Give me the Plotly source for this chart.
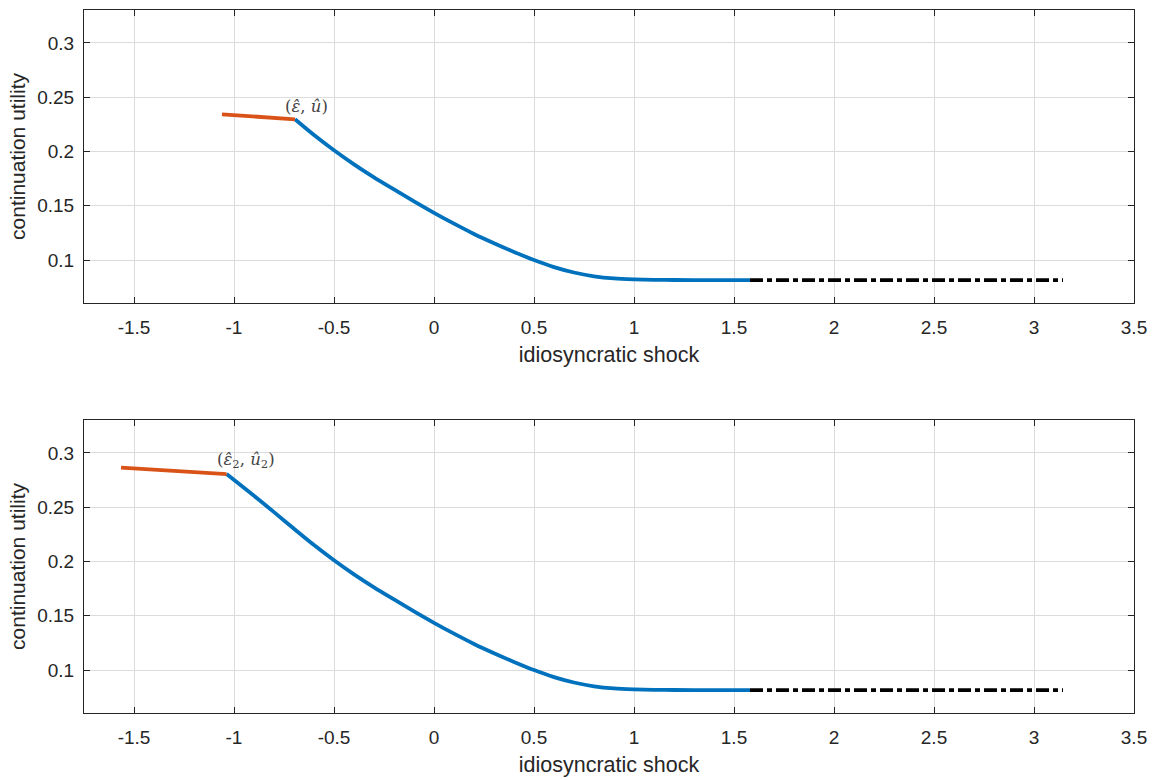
import plotly.graph_objects as go

# ---------------- data ----------------
# top panel
top_orange_x = [-1.06, -0.695]
top_orange_y = [0.2343, 0.2297]

top_blue_x = [-0.695, -0.6, -0.5, -0.4, -0.3, -0.2, -0.1, 0.0, 0.1, 0.2, 0.3, 0.4,
              0.5, 0.6, 0.7, 0.8, 0.9, 1.0, 1.1, 1.2, 1.4, 1.58]
top_blue_y = [0.2297, 0.2152, 0.2012, 0.1882, 0.1762, 0.1650, 0.1540, 0.1435, 0.1335,
              0.1240, 0.1155, 0.1075, 0.1000, 0.0935, 0.0885, 0.0850, 0.0830, 0.0822,
              0.0818, 0.0816, 0.0815, 0.0815]

top_black_x = [1.58, 3.145]
top_black_y = [0.0815, 0.0815]

# bottom panel
bot_orange_x = [-1.565, -1.037]
bot_orange_y = [0.2865, 0.2806]

bot_blue_x = [-1.037, -0.9, -0.8, -0.7, -0.6, -0.5, -0.4, -0.3, -0.2, -0.1, 0.0, 0.1,
              0.2, 0.3, 0.4, 0.5, 0.6, 0.7, 0.8, 0.9, 1.0, 1.1, 1.2, 1.4, 1.58]
bot_blue_y = [0.2806, 0.2605, 0.2455, 0.2302, 0.2152, 0.2012, 0.1882, 0.1762, 0.1650,
              0.1540, 0.1435, 0.1335, 0.1240, 0.1155, 0.1075, 0.1000, 0.0935, 0.0885,
              0.0850, 0.0830, 0.0822, 0.0818, 0.0816, 0.0815, 0.0815]

bot_black_x = [1.58, 3.145]
bot_black_y = [0.0815, 0.0815]

x_ticks = [-1.5, -1, -0.5, 0, 0.5, 1, 1.5, 2, 2.5, 3, 3.5]
x_tick_text = ["-1.5", "-1", "-0.5", "0", "0.5", "1", "1.5", "2", "2.5", "3", "3.5"]
y_ticks = [0.1, 0.15, 0.2, 0.25, 0.3]
y_tick_text = ["0.1", "0.15", "0.2", "0.25", "0.3"]

ann_top = "(<i>ε\u0302</i>, <i>u\u0302</i>)"
ann_bot = "(<i>ε\u0302</i><sub>2</sub>, <i>u\u0302</i><sub>2</sub>)"

# ---------------- styles ----------------
BLUE = "#0072BD"
ORANGE = "#D95319"
AX = "#262626"
GRID = "#dcdcdc"
FONT = "Liberation Sans, Arial, sans-serif"
LW = 3.8

fig = go.Figure()

def add_panel(xa, ya, ox, oy, bx, by, kx, ky):
    fig.add_trace(go.Scatter(x=bx, y=by, mode="lines", xaxis=xa, yaxis=ya,
                             line=dict(color=BLUE, width=LW, shape="spline", smoothing=0.8),
                             showlegend=False))
    fig.add_trace(go.Scatter(x=ox, y=oy, mode="lines", xaxis=xa, yaxis=ya,
                             line=dict(color=ORANGE, width=LW), showlegend=False))
    fig.add_trace(go.Scatter(x=kx, y=ky, mode="lines", xaxis=xa, yaxis=ya,
                             line=dict(color="black", width=LW, dash="13px,4px,5px,4px"),
                             showlegend=False))

add_panel("x", "y", top_orange_x, top_orange_y, top_blue_x, top_blue_y, top_black_x, top_black_y)
add_panel("x2", "y2", bot_orange_x, bot_orange_y, bot_blue_x, bot_blue_y, bot_black_x, bot_black_y)

xd = [84 / 1152, 1134 / 1152]
common_x = dict(range=[-1.75, 3.5], tickvals=x_ticks, ticktext=x_tick_text,
                showgrid=True, gridcolor=GRID, gridwidth=1, zeroline=False,
                showline=True, linecolor=AX, linewidth=1, mirror="ticks",
                ticks="inside", ticklen=6, tickcolor=AX, tickwidth=1,
                tickfont=dict(family=FONT, size=19, color=AX), ticklabelstandoff=7,
                title=dict(text="idiosyncratic shock", font=dict(family=FONT, size=21.5, color=AX),
                           standoff=10),
                automargin=False, domain=xd, fixedrange=True)
common_y = dict(range=[0.0604, 0.3304], tickvals=y_ticks, ticktext=y_tick_text,
                showgrid=True, gridcolor=GRID, gridwidth=1, zeroline=False,
                showline=True, linecolor=AX, linewidth=1, mirror="ticks",
                ticks="inside", ticklen=6, tickcolor=AX, tickwidth=1,
                tickfont=dict(family=FONT, size=19, color=AX), ticklabelstandoff=5,
                title=dict(text="continuation utility", font=dict(family=FONT, size=21, color=AX),
                           standoff=5),
                automargin=False, fixedrange=True)

fig.update_layout(
    width=1152, height=780,
    margin=dict(l=0, r=0, t=0, b=0),
    paper_bgcolor="white", plot_bgcolor="white",
    xaxis=dict(**common_x, anchor="y"),
    yaxis=dict(**common_y, anchor="x", domain=[1 - 303 / 780, 1 - 10 / 780]),
    xaxis2=dict(**common_x, anchor="y2"),
    yaxis2=dict(**common_y, anchor="x2", domain=[1 - 713 / 780, 1 - 420 / 780]),
    annotations=[
        dict(x=top_orange_x[1], y=top_orange_y[1], xref="x", yref="y", text=ann_top,
             showarrow=False, xanchor="left", yanchor="bottom", xshift=-12, yshift=1,
             font=dict(family="DejaVu Serif, serif", size=16.5, color="#444444")),
        dict(x=bot_orange_x[1], y=bot_orange_y[1], xref="x2", yref="y2", text=ann_bot,
             showarrow=False, xanchor="left", yanchor="bottom", xshift=-12, yshift=1,
             font=dict(family="DejaVu Serif, serif", size=16.5, color="#444444")),
    ],
)

fig.write_html("out.html")
